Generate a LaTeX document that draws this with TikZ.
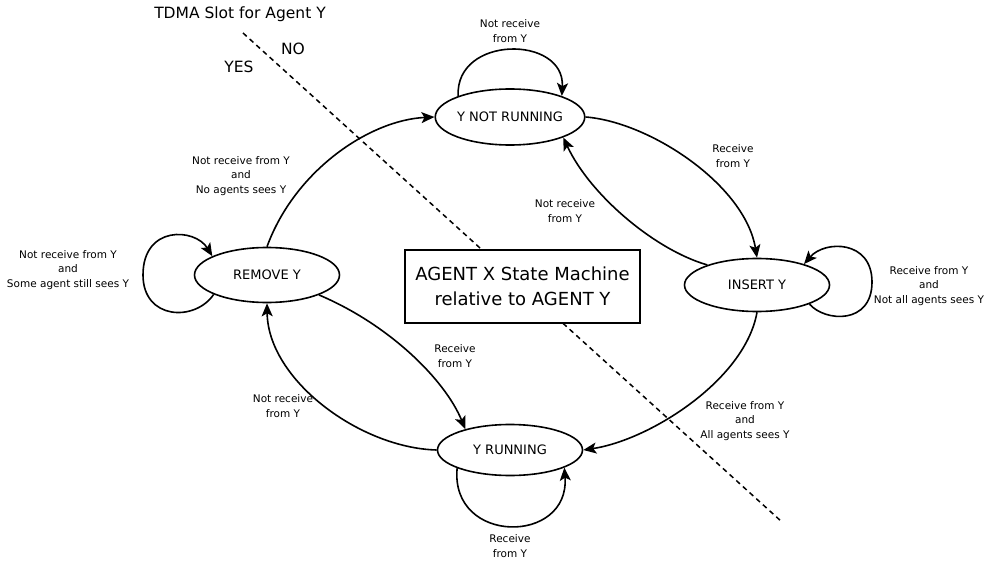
\documentclass[tikz,border=0pt]{standalone}
\usepackage{fontspec}
\setmainfont{DejaVu Sans}
\usetikzlibrary{shapes.geometric,arrows.meta}
\begin{document}
\begin{tikzpicture}[x=1pt,y=-1pt,
  state/.style={ellipse,draw,line width=1.6pt,fill=white,minimum width=145pt,minimum height=54pt,inner sep=0pt,font=\fontsize{13}{15}\selectfont},
  lbl/.style={align=center,font=\fontsize{10.5}{14.5}\selectfont,inner sep=0pt},
  big/.style={font=\fontsize{15.5}{18}\selectfont,inner sep=0pt},
  conn/.style={line width=1.6pt,-{Stealth[length=13pt,width=11pt,inset=3pt]}},
]
\useasboundingbox (0,0) rectangle (987,561);
% dashed separator
\coordinate (d1) at (243,33);
\coordinate (d2) at (782,522);
\draw[line width=1.5pt,dash pattern=on 5pt off 4pt] (d1) -- (d2);
% title box
\node[draw,line width=1.6pt,fill=white,minimum width=235pt,minimum height=73pt,inner sep=0pt,align=center,font=\fontsize{18}{25}\selectfont] (box) at (522.5,286.5) {AGENT X State Machine\\relative to AGENT Y};
% top texts
\node[big] (tdma) at (240,14) {TDMA Slot for Agent Y};
\node[big] (no) at (293,49) {NO};
\node[big] (yes) at (239,67) {YES};
% states
\node[state,minimum height=56pt] (ynr) at (510,117) {Y NOT RUNNING};
\node[state,minimum height=55pt] (rem) at (267,275) {REMOVE Y};
\node[state,minimum height=53pt] (ins) at (757,285) {INSERT Y};
\node[state,minimum height=51pt] (yr) at (510,450) {Y RUNNING};
% transitions
\draw[conn] (rem.north) .. controls (295,170) and (370,120) .. (ynr.west);
\draw[conn] (ynr.east) .. controls (650,122) and (745,185) .. (ins.north);
\draw[conn] (ins.158) .. controls (655,250) and (590,195) .. (ynr.339);
\draw[conn] (ins.south) .. controls (745,380) and (650,440) .. (yr.east);
\draw[conn] (rem.339) .. controls (390,325) and (445,380) .. (yr.155);
\draw[conn] (yr.west) .. controls (360,448) and (268,380) .. (rem.south);
% self loops
\draw[conn] (ynr.158) .. controls (455,35) and (565,35) .. (ynr.22);
\draw[conn] (yr.199) .. controls (450,545) and (570,545) .. (yr.342);
\coordinate (rl) at (143,275);
\draw[conn] (rem.200) .. controls (195,322) and (143,320) .. (rl) .. controls (143,225) and (195,228) .. (rem.161);
\coordinate (il) at (872,282);
\draw[conn] (ins.340) .. controls (825,322) and (872,325) .. (il) .. controls (872,240) and (825,240) .. (ins.24);
% labels
\node[lbl] (l0) at (510,31) {Not receive\\from Y};
\node[lbl] (l1) at (241,176) {Not receive from Y\\and\\No agents sees Y};
\node[lbl] (l2) at (733,156) {Receive\\from Y};
\node[lbl] (l3) at (565,211) {Not receive\\from Y};
\node[lbl] (l4) at (929,286) {Receive from Y\\and\\Not all agents sees Y};
\node[lbl] (l5) at (68,270) {Not receive from Y\\and\\Some agent still sees Y};
\node[lbl] (l6) at (455,356) {Receive\\from Y};
\node[lbl] (l7) at (283,406) {Not receive\\from Y};
\node[lbl] (l8) at (745,421) {Receive from Y\\and\\All agents sees Y};
\node[lbl] (l9) at (510,546) {Receive\\from Y};
\end{tikzpicture}
\end{document}
